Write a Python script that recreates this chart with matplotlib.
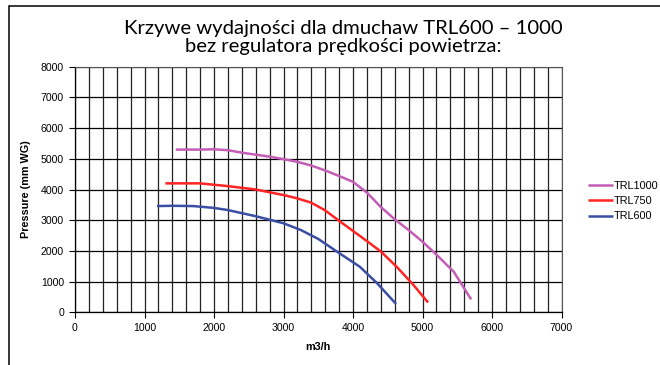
import matplotlib
matplotlib.use("Agg")
import matplotlib.pyplot as plt
from matplotlib.patches import Rectangle
from matplotlib.ticker import MultipleLocator

plt.rcParams['font.family'] = ['Liberation Sans', 'DejaVu Sans']

title = "Krzywe wydajności dla dmuchaw TRL600 – 1000\nbez regulatora prędkości powietrza:"
xlabel = "m3/h"
ylabel = "Pressure (mm WG)"

trl1000_x = [1450, 1800, 2000, 2200, 2400, 2800, 3000, 3200, 3400, 3600, 3800, 4000, 4200, 4400, 4600, 4800, 5000, 5200, 5450, 5700]
trl1000_y = [5300, 5300, 5310, 5280, 5200, 5070, 4990, 4900, 4780, 4620, 4440, 4250, 3900, 3430, 3030, 2680, 2300, 1880, 1320, 420]

trl750_x = [1300, 1500, 1800, 2200, 2600, 3000, 3200, 3400, 3600, 3800, 4000, 4200, 4400, 4630, 4870, 5080]
trl750_y = [4200, 4200, 4200, 4110, 4000, 3820, 3710, 3570, 3320, 2980, 2650, 2320, 1980, 1480, 890, 320]

trl600_x = [1180, 1400, 1700, 2000, 2200, 2600, 3000, 3250, 3500, 3800, 4100, 4350, 4620]
trl600_y = [3460, 3470, 3460, 3400, 3330, 3130, 2900, 2680, 2390, 1930, 1480, 940, 270]

series = [
    ("TRL1000", trl1000_x, trl1000_y, "#C35DB6"),
    ("TRL750", trl750_x, trl750_y, "#FF2424"),
    ("TRL600", trl600_x, trl600_y, "#3A4EA6"),
]

fig = plt.figure(figsize=(6.6, 3.65), dpi=100)
W, H = 660, 365
ax = fig.add_axes([75 / W, 1 - 312.3 / H, (561.5 - 75) / W, (312.3 - 66.7) / H])

for name, xs, ys, c in series:
    ax.plot(xs, ys, color=c, lw=1.8, label=name, solid_capstyle='butt',
            solid_joinstyle='round', zorder=3)

ax.set_xlim(0, 7000)
ax.set_ylim(0, 8000)
ax.xaxis.set_major_locator(MultipleLocator(1000))
ax.xaxis.set_minor_locator(MultipleLocator(200))
ax.yaxis.set_major_locator(MultipleLocator(1000))
ax.grid(True, which='major', axis='y', color='black', lw=0.9)
ax.grid(True, which='both', axis='x', color='#222222', lw=0.9)
ax.tick_params(axis='both', which='major', labelsize=7.6, length=4, width=0.8, pad=4, color='black')
ax.tick_params(axis='x', which='minor', length=0)
for s in ['top', 'right']:
    ax.spines[s].set_color('#555555')
    ax.spines[s].set_linewidth(0.8)
for s in ['left', 'bottom']:
    ax.spines[s].set_color('black')
    ax.spines[s].set_linewidth(0.9)

ax.set_xlabel(xlabel, fontsize=7.8, fontweight='bold', labelpad=6)
ax.set_ylabel(ylabel, fontsize=7.8, fontweight='bold', labelpad=7)

fig.text(343 / W, 1 - 37.5 / H, title, ha='center', va='center', fontsize=14.6,
         family=['Lato', 'DejaVu Sans'], linespacing=1.05)

handles, labels = ax.get_legend_handles_labels()
fig.legend(handles, labels, loc='center left', bbox_to_anchor=(588 / W, 1 - 201 / H),
           frameon=False, fontsize=7.8, handlelength=2.3, handletextpad=0.05,
           labelspacing=0.5, borderaxespad=0, borderpad=0)

fig.add_artist(Rectangle((9 / W, -0.05), 1.1, 1 - 6 / H + 0.05, transform=fig.transFigure,
                         fill=False, edgecolor='black', lw=1.1))

fig.savefig("out.png", dpi=100)
